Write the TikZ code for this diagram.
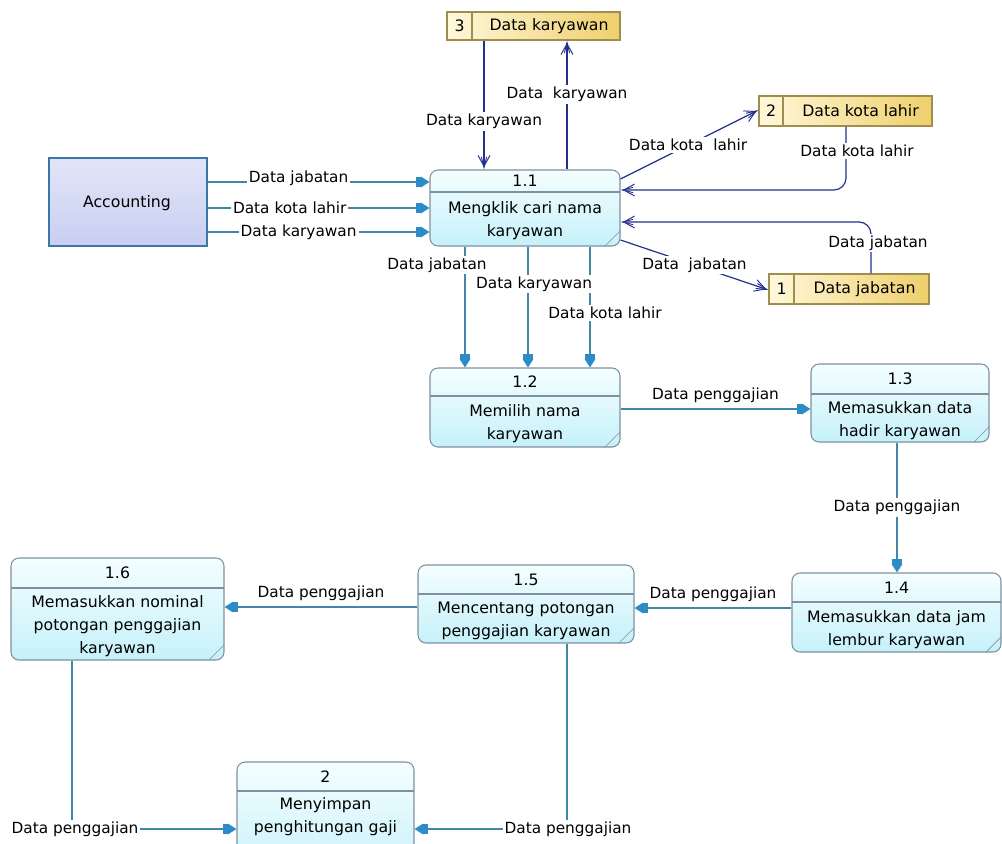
\documentclass[tikz,border=0pt]{standalone}
\usepackage{fontspec}
\setmainfont{DejaVu Sans}
\usetikzlibrary{arrows.meta,fit,calc}
\definecolor{pborder}{HTML}{7F90A0}
\definecolor{ptop}{HTML}{F4FEFF}
\definecolor{pbot}{HTML}{C6F1FA}
\definecolor{sborder}{HTML}{A08E4E}
\definecolor{sleft}{HTML}{FFF8DA}
\definecolor{sright}{HTML}{EFCF6C}
\definecolor{aborder}{HTML}{3D76A6}
\definecolor{atop}{HTML}{E2E6F9}
\definecolor{abot}{HTML}{C8CEF0}
\definecolor{pflowc}{HTML}{4287A8}
\definecolor{ptipc}{HTML}{2C8CC6}
\definecolor{sflowc}{HTML}{23308E}
\tikzset{
  procbox/.style={draw=pborder, line width=0.8pt, rounded corners=6pt, top color=ptop, bottom color=pbot, inner sep=0pt},
  storebox/.style={draw=sborder, line width=0.8pt, left color=sleft, right color=sright, inner sep=0pt},
  extbox/.style={draw=aborder, line width=1pt, top color=atop, bottom color=abot, inner sep=0pt},
  ptext/.style={font=\fontsize{11.8}{17.2}\selectfont, align=center, inner sep=0pt},
  pflow/.style={draw=pflowc, line width=1.1pt, -{Rectangle[length=3.5pt,width=7pt,color=ptipc]Triangle[length=6.5pt,width=8pt,color=ptipc]}},
  sflow/.style={draw=sflowc, line width=0.9pt, -{Straight Barb[length=8pt,width=9pt,line width=0.7pt,sep=-8pt]Straight Barb[length=8pt,width=4pt,line width=0.7pt]}},
  lab/.style={fill=white, inner sep=1.5pt, font=\fontsize{11.5}{13}\selectfont},
  labup/.style={above=3pt, inner sep=1pt, font=\fontsize{11.5}{13}\selectfont},
}
% name, x1, y1, x2, y2, header y, text centre y, number, text
\newcommand\proc[9]{%
  \node[procbox, fit={(#2,#3) (#4,#5)}] (#1) {};
  \draw[pborder, line width=0.8pt] (#2,#6) -- (#4,#6);
  \draw[pborder, line width=0.5pt] (#4-15,#5) -- (#4,#5-15);
  \node[ptext] (#1num) at ({(#2+#4)/2},{(#3+#6)/2}) {#8};
  \node[ptext] (#1txt) at ({(#2+#4)/2},#7) {#9};
}
% name, x1, y1, x2, y2, divider x, number, label
\newcommand\store[8]{%
  \node[storebox, fit={(#2,#3) (#4,#5)}] (#1) {};
  \draw[sborder, line width=0.8pt] (#6,#3) -- (#6,#5);
  \node[ptext] (#1num) at ({(#2+#6)/2},{(#3+#5)/2}) {#7};
  \node[ptext] (#1lab) at ({(#6+#4)/2+3},{(#3+#5)/2}) {#8};
}
\begin{document}
\begin{tikzpicture}[x=0.75pt,y=-0.75pt]
\useasboundingbox (0,0) rectangle (1002,843);
\clip (0,0) rectangle (1002,843);

% external entity
\node[extbox, fit={(49,158) (207,246)}] (acc) {};
\node[ptext] (acctxt) at (127,203) {Accounting};

% data stores
\store{s3}{447}{12}{620}{40}{472}{3}{Data karyawan}
\store{s2}{759}{96}{932}{126}{783}{2}{Data kota lahir}
\store{s1}{769}{274}{929}{304}{794}{1}{Data jabatan}

% processes
\proc{p11}{430}{170}{620}{246}{192}{221}{1.1}{Mengklik cari nama\\karyawan}
\proc{p12}{430}{368}{620}{447}{396}{424}{1.2}{Memilih nama\\karyawan}
\proc{p13}{811}{364}{989}{442}{394}{421}{1.3}{Memasukkan data\\hadir karyawan}
\proc{p14}{792}{573}{1001}{652}{602}{630}{1.4}{Memasukkan data jam\\lembur karyawan}
\proc{p15}{418}{565}{634}{643}{594}{621}{1.5}{Mencentang potongan\\penggajian karyawan}
\proc{p16}{11}{558}{224}{660}{588}{626}{1.6}{Memasukkan nominal\\potongan penggajian\\karyawan}
\proc{p2}{237}{762}{414}{880}{791}{817}{2}{Menyimpan\\penghitungan gaji}

% accounting -> 1.1
\draw[pflow] (acc.east |- 0,182) -- node[lab, pos=0.41, yshift=3pt] (la1) {Data jabatan} (p11.west |- 0,182);
\draw[pflow] (acc.east |- 0,208) -- node[lab, pos=0.37] (la2) {Data kota lahir} (p11.west |- 0,208);
\draw[pflow] (acc.east |- 0,232) -- node[lab, pos=0.41] (la3) {Data karyawan} (p11.west |- 0,232);

% stores <-> 1.1
\draw[sflow] (s3.south -| 484,0) -- node[lab, pos=0.63] (ls3a) {Data karyawan} (p11.north -| 484,0);
\draw[sflow] (p11.north -| 567,0) -- node[lab, pos=0.58] (ls3b) {Data \ karyawan} (s3.south -| 567,0);
\draw[sflow] (p11.east |- 0,179) -- node[lab, pos=0.49] (ls2a) {Data kota \ lahir} (s2.west |- 0,110);
\draw[sflow, rounded corners=9pt] (s2.south -| 846,0) -- (846,190) -- (p11.east |- 0,190);
\node[lab] (ls2b) at (857,151) {Data kota lahir};
\draw[sflow, rounded corners=9pt] (s1.north -| 871,0) -- (871,222) -- (p11.east |- 0,222);
\node[lab] (ls1a) at (878,243) {Data jabatan};
\draw[sflow] (p11.east |- 0,240) -- node[lab, pos=0.5] (ls1b) {Data \ jabatan} (s1.west |- 0,290);

% 1.1 -> 1.2
\draw[pflow] (p11.south -| 465,0) -- (p12.north -| 465,0);
\draw[pflow] (p11.south -| 528,0) -- (p12.north -| 528,0);
\draw[pflow] (p11.south -| 590,0) -- (p12.north -| 590,0);
\node[lab] (l12a) at (437,265) {Data jabatan};
\node[lab] (l12b) at (534,284) {Data karyawan};
\node[lab] (l12c) at (605,313) {Data kota lahir};

% chain
\draw[pflow] (p12.east |- 0,409) -- node[labup] (l23) {Data penggajian} (p13.west |- 0,409);
\draw[pflow] (p13.south -| 897,0) -- node[lab, pos=0.5] (l34) {Data penggajian} (p14.north -| 897,0);
\draw[pflow] (p14.west |- 0,608) -- node[labup] (l45) {Data penggajian} (p15.east |- 0,608);
\draw[pflow] (p15.west |- 0,607) -- node[labup] (l56) {Data penggajian} (p16.east |- 0,607);

% to process 2
\draw[pflow] (p16.south -| 72,0) -- (72,829) -- (p2.west |- 0,829);
\node[lab] (l62) at (75,829) {Data penggajian};
\draw[pflow] (p15.south -| 567,0) -- (567,829) -- (p2.east |- 0,829);
\node[lab] (l52) at (568,829) {Data penggajian};
\end{tikzpicture}
\end{document}
